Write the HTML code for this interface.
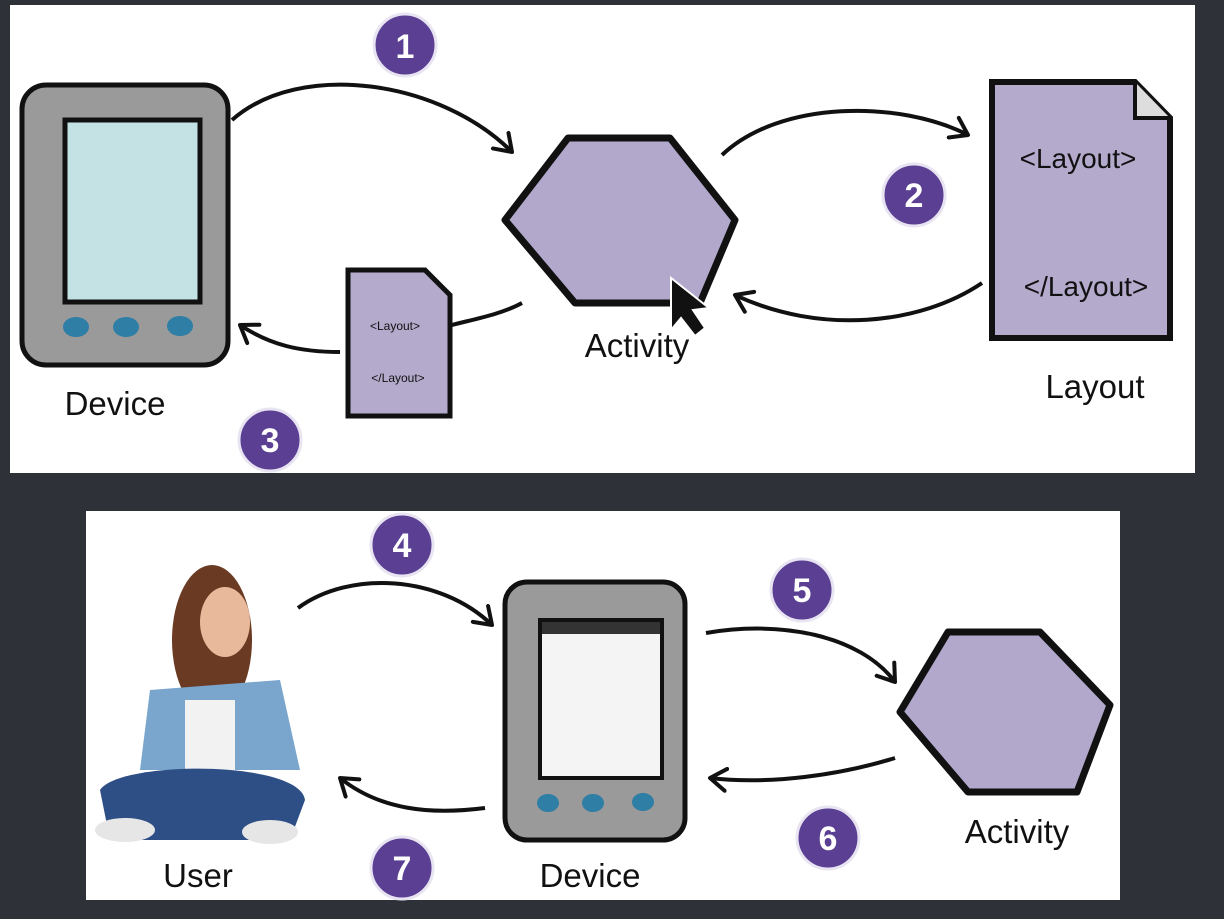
<!DOCTYPE html>
<html><head><meta charset="utf-8"><style>
html,body{margin:0;padding:0;width:1224px;height:919px;overflow:hidden;background:#2e3238;}
svg{display:block}
text{font-family:"Liberation Sans",sans-serif}
</style></head><body>
<svg width="1224" height="919" viewBox="0 0 1224 919">
<defs>
<marker id="ah" markerWidth="24" markerHeight="26" refX="18" refY="13" orient="auto" markerUnits="userSpaceOnUse">
<path d="M2,2 L18,13 L2,24" fill="none" stroke="#111" stroke-width="4" stroke-linecap="round" stroke-linejoin="round"/></marker>
<g id="badge"><circle r="31" fill="#5a3f93" stroke="#e9e4f2" stroke-width="3"/></g>
</defs>
<rect x="0" y="0" width="1224" height="919" fill="#2e3238"/>
<rect x="10" y="5" width="1185" height="468" fill="#fff"/>
<rect x="86" y="511" width="1034" height="389" fill="#fff"/>

<rect x="22" y="85" width="206" height="280" rx="24" fill="#9a9a9a" stroke="#111" stroke-width="5"/>
<rect x="65" y="120" width="135" height="182" fill="#c4e2e4" stroke="#111" stroke-width="5"/>
<ellipse cx="76" cy="327" rx="13" ry="10" fill="#2e7ea6"/>
<ellipse cx="126" cy="327" rx="13" ry="10" fill="#2e7ea6"/>
<ellipse cx="180" cy="326" rx="13" ry="10" fill="#2e7ea6"/>
<text x="115" y="415" font-size="33" text-anchor="middle" fill="#111">Device</text>

<polygon points="568,138 670,138 735,220 700,303 575,303 505,220" fill="#b1a8cb" stroke="#111" stroke-width="7" stroke-linejoin="round"/>
<text x="637" y="357" font-size="33" text-anchor="middle" fill="#111">Activity</text>
<path d="M671,278 l0,52 l10,-12 l14,18 l10,-8 l-12,-18 l16,-2 z" fill="#111" stroke="#fff" stroke-width="2"/>

<path d="M992,82 L1135,82 L1170,118 L1170,338 L992,338 Z" fill="#b3aacc" stroke="#111" stroke-width="6"/>
<path d="M1135,82 L1135,118 L1170,118" fill="#ddd" stroke="#111" stroke-width="4"/>
<text x="1078" y="168" font-size="28" text-anchor="middle" fill="#111">&lt;Layout&gt;</text>
<text x="1086" y="296" font-size="28" text-anchor="middle" fill="#111">&lt;/Layout&gt;</text>
<text x="1095" y="398" font-size="33" text-anchor="middle" fill="#111">Layout</text>

<path d="M348,270 L425,270 L450,295 L450,416 L348,416 Z" fill="#b3aacc" stroke="#111" stroke-width="5"/>
<text x="395" y="330" font-size="12" text-anchor="middle" fill="#111">&lt;Layout&gt;</text>
<text x="398" y="382" font-size="12" text-anchor="middle" fill="#111">&lt;/Layout&gt;</text>

<path d="M232,120 C300,60 440,80 512,152" fill="none" stroke="#111" stroke-width="4" marker-end="url(#ah)"/>
<path d="M722,155 C780,100 900,100 968,135" fill="none" stroke="#111" stroke-width="4" marker-end="url(#ah)"/>
<path d="M982,283 C920,325 820,335 735,295" fill="none" stroke="#111" stroke-width="4" marker-end="url(#ah)"/>
<path d="M522,303 C500,315 470,320 452,325" fill="none" stroke="#111" stroke-width="4"/>
<path d="M340,352 C300,352 270,345 240,325" fill="none" stroke="#111" stroke-width="4" marker-end="url(#ah)"/>

<use href="#badge" x="405" y="45"/><text x="405" y="58" font-size="34" font-weight="bold" text-anchor="middle" fill="#fff">1</text>
<use href="#badge" x="914" y="195"/><text x="914" y="207" font-size="34" font-weight="bold" text-anchor="middle" fill="#fff">2</text>
<use href="#badge" x="270" y="440"/><text x="270" y="452" font-size="34" font-weight="bold" text-anchor="middle" fill="#fff">3</text>
<use href="#badge" x="402" y="545"/><text x="402" y="557" font-size="34" font-weight="bold" text-anchor="middle" fill="#fff">4</text>
<use href="#badge" x="802" y="590"/><text x="802" y="602" font-size="34" font-weight="bold" text-anchor="middle" fill="#fff">5</text>
<use href="#badge" x="828" y="838"/><text x="828" y="850" font-size="34" font-weight="bold" text-anchor="middle" fill="#fff">6</text>
<use href="#badge" x="402" y="868"/><text x="402" y="880" font-size="34" font-weight="bold" text-anchor="middle" fill="#fff">7</text>

<ellipse cx="212" cy="640" rx="40" ry="75" fill="#6b3a22"/>
<ellipse cx="225" cy="622" rx="25" ry="35" fill="#e8b99a"/>
<path d="M150,690 L280,680 L300,770 L140,770 Z" fill="#7aa5cc"/>
<rect x="185" y="700" width="50" height="70" fill="#f2f2f2"/>
<path d="M100,790 C120,760 300,760 305,800 L290,840 L110,840 Z" fill="#2e4f86"/>
<ellipse cx="125" cy="830" rx="30" ry="12" fill="#e6e6e6"/>
<ellipse cx="270" cy="832" rx="28" ry="12" fill="#e6e6e6"/>
<text x="198" y="887" font-size="33" text-anchor="middle" fill="#111">User</text>

<rect x="505" y="582" width="180" height="258" rx="22" fill="#9a9a9a" stroke="#111" stroke-width="5"/>
<rect x="540" y="620" width="122" height="158" fill="#f4f4f4" stroke="#111" stroke-width="4"/>
<rect x="542" y="622" width="118" height="12" fill="#333"/>
<ellipse cx="548" cy="803" rx="11" ry="9" fill="#2e7ea6"/>
<ellipse cx="593" cy="803" rx="11" ry="9" fill="#2e7ea6"/>
<ellipse cx="643" cy="802" rx="11" ry="9" fill="#2e7ea6"/>
<text x="590" y="887" font-size="33" text-anchor="middle" fill="#111">Device</text>

<polygon points="948,632 1040,632 1110,705 1077,792 968,792 900,712" fill="#b1a8cb" stroke="#111" stroke-width="7" stroke-linejoin="round"/>
<text x="1017" y="843" font-size="33" text-anchor="middle" fill="#111">Activity</text>

<path d="M298,608 C350,570 440,575 492,625" fill="none" stroke="#111" stroke-width="4" marker-end="url(#ah)"/>
<path d="M706,633 C780,620 860,635 895,682" fill="none" stroke="#111" stroke-width="4" marker-end="url(#ah)"/>
<path d="M895,758 C840,775 770,785 710,778" fill="none" stroke="#111" stroke-width="4" marker-end="url(#ah)"/>
<path d="M485,808 C430,815 380,810 340,778" fill="none" stroke="#111" stroke-width="4" marker-end="url(#ah)"/>
</svg>
</body></html>
